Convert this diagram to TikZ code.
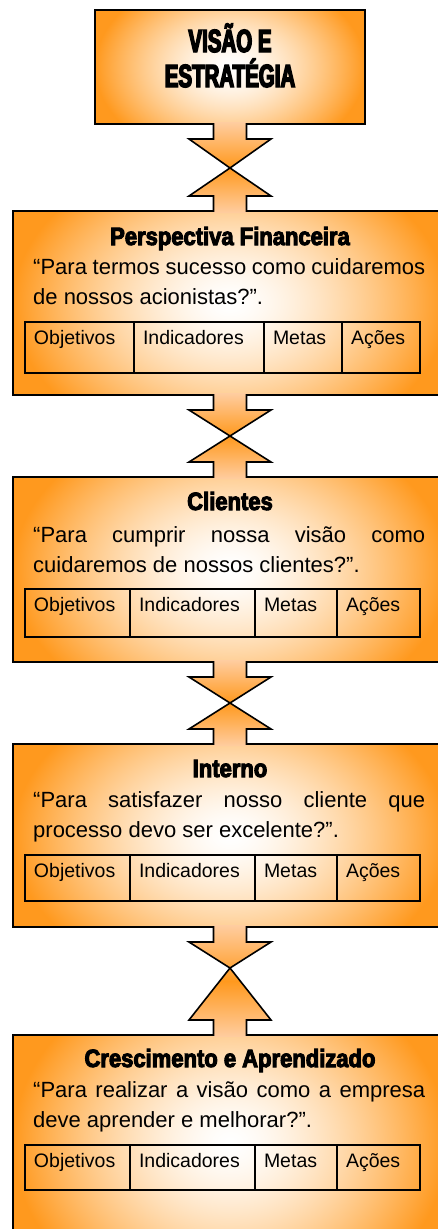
\documentclass[tikz,border=0pt]{standalone}
\usepackage{fontspec}
\setmainfont{Liberation Sans}
\newfontfamily\headfont{Liberation Sans}[FakeStretch=0.88,FakeBold=4]
\newfontfamily\bannerfont{Liberation Sans}[FakeStretch=0.64,FakeBold=4.5]
\usetikzlibrary{positioning}
\usetikzlibrary{calc}
\definecolor{ember}{RGB}{255,153,30}
\definecolor{peach}{RGB}{255,205,160}
\pgfdeclarefunctionalshading{boxglow}{\pgfpoint{-50bp}{-50bp}}{\pgfpoint{50bp}{50bp}}{}{%
  25 div 0.6 mul dup mul exch 25 div dup mul add sqrt
  1 2 copy sub abs neg add add 2 div
  dup sqrt mul
  dup 0 mul 1 exch sub exch
  dup 0.4 mul 1 exch sub exch
  0.882 mul 1 exch sub
}
\tikzstyle{panel}=[draw=black, line width=1.6pt, shading=boxglow, outer sep=0pt, inner sep=0pt, anchor=north]
\tikzstyle{cell}=[draw=black, line width=1.6pt, outer sep=0pt, inner xsep=9pt, inner ysep=0pt, text height=22pt, align=left, anchor=north west, font=\fontsize{19.5}{22}\selectfont]
\tikzstyle{heading}=[inner sep=0pt, anchor=base, font=\headfont\bfseries\fontsize{25}{30}\selectfont]
\tikzstyle{banner}=[inner sep=0pt, anchor=base, align=center, font=\bannerfont\bfseries\fontsize{32}{35}\selectfont]
\tikzstyle{quote}=[text width=392pt, align=justify, inner sep=0pt, anchor=base west, font=\fontsize{22}{30.5}\selectfont]
\tikzstyle{joint}=[draw=black, line width=1.6pt, line join=miter]
% four cells under each perspective
\newcommand{\scorecard}[7]{%
  \node[cell, text width=#3, text depth=#7] (#1o) at #2 {Objetivos};
  \node[cell, text width=#4, text depth=#7, right=0pt of #1o] (#1i) {Indicadores};
  \node[cell, text width=#5, text depth=#7, right=0pt of #1i] (#1m) {Metas};
  \node[cell, text width=#6, text depth=#7, right=0pt of #1m] (#1a) {Ações};
}
% down arrow meets up arrow at #3
\newcommand{\hourglass}[3]{%
  \shade[top color=peach, bottom color=peach, middle color=ember]
    ($(#1.south)+(-16.5,-2)$) -- ($(#1.south)+(-16.5,15)$) -- ($(#1.south)+(-41,15)$) -- (#3)
    -- ($(#2.north)+(-41,-15)$) -- ($(#2.north)+(-16.5,-15)$) -- ($(#2.north)+(-16.5,2)$)
    -- ($(#2.north)+(16.5,2)$) -- ($(#2.north)+(16.5,-15)$) -- ($(#2.north)+(41,-15)$) -- (#3)
    -- ($(#1.south)+(41,15)$) -- ($(#1.south)+(16.5,15)$) -- ($(#1.south)+(16.5,-2)$) -- cycle;
  \draw[joint] ($(#1.south)+(-16.5,-0.8)$) -- ($(#1.south)+(-16.5,15)$) -- ($(#1.south)+(-41,15)$) -- (#3)
    -- ($(#2.north)+(41,-15)$) -- ($(#2.north)+(16.5,-15)$) -- ($(#2.north)+(16.5,0.8)$);
  \draw[joint] ($(#1.south)+(16.5,-0.8)$) -- ($(#1.south)+(16.5,15)$) -- ($(#1.south)+(41,15)$) -- (#3)
    -- ($(#2.north)+(-41,-15)$) -- ($(#2.north)+(-16.5,-15)$) -- ($(#2.north)+(-16.5,0.8)$);
}

\begin{document}
\begin{tikzpicture}[x=1pt, y=-1pt]
    \useasboundingbox (0,0) rectangle (438,1229);
    \clip (0,0) rectangle (438,1229);
    % panels
    \node[panel, minimum width=270pt, minimum height=114pt] (vis) at (230,10) {};
    \node[panel, minimum width=434pt, minimum height=184pt] (fin) at (230,211) {};
    \node[panel, minimum width=434pt, minimum height=185pt] (cli) at (230,477) {};
    \node[panel, minimum width=434pt, minimum height=183pt] (int) at (230,744) {};
    \node[panel, minimum width=434pt, minimum height=215pt] (cre) at (230,1035) {};
    % crossings
    \coordinate (x1) at (230,168);
    \coordinate (x2) at (230,436);
    \coordinate (x3) at (230,703);
    \coordinate (x4) at (230,968);
    \hourglass{vis}{fin}{x1}
    \hourglass{fin}{cli}{x2}
    \hourglass{cli}{int}{x3}
    \hourglass{int}{cre}{x4}
    % texts
    \node[banner] (visT) at (230,87) {VISÃO E\\ESTRATÉGIA};
    \node[heading] (finT) at (230,245) {Perspectiva Financeira};
    \node[quote] (finQ) at (33,274) {“Para termos sucesso como cuidaremos\linebreak de nossos acionistas?”.};
    \scorecard{fin}{(25,322)}{91pt}{112pt}{60pt}{60pt}{29pt}
    \node[heading] (cliT) at (230,510) {Clientes};
    \node[quote] (cliQ) at (33,542) {“Para cumprir nossa visão como\linebreak cuidaremos de nossos clientes?”.};
    \scorecard{cli}{(25,589)}{87pt}{107pt}{64pt}{65pt}{26pt}
    \node[heading] (intT) at (230,777) {Interno};
    \node[quote] (intQ) at (33,807) {“Para satisfazer nosso cliente que\linebreak processo devo ser excelente?”.};
    \scorecard{int}{(25,855)}{87pt}{107pt}{64pt}{65pt}{24pt}
    \node[heading] (creT) at (230,1067) {Crescimento e Aprendizado};
    \node[quote] (creQ) at (33,1097) {“Para realizar a visão como a empresa\linebreak deve aprender e melhorar?”.};
    \scorecard{cre}{(25,1145)}{87pt}{107pt}{64pt}{65pt}{23pt}
  \end{tikzpicture}
\end{document}
